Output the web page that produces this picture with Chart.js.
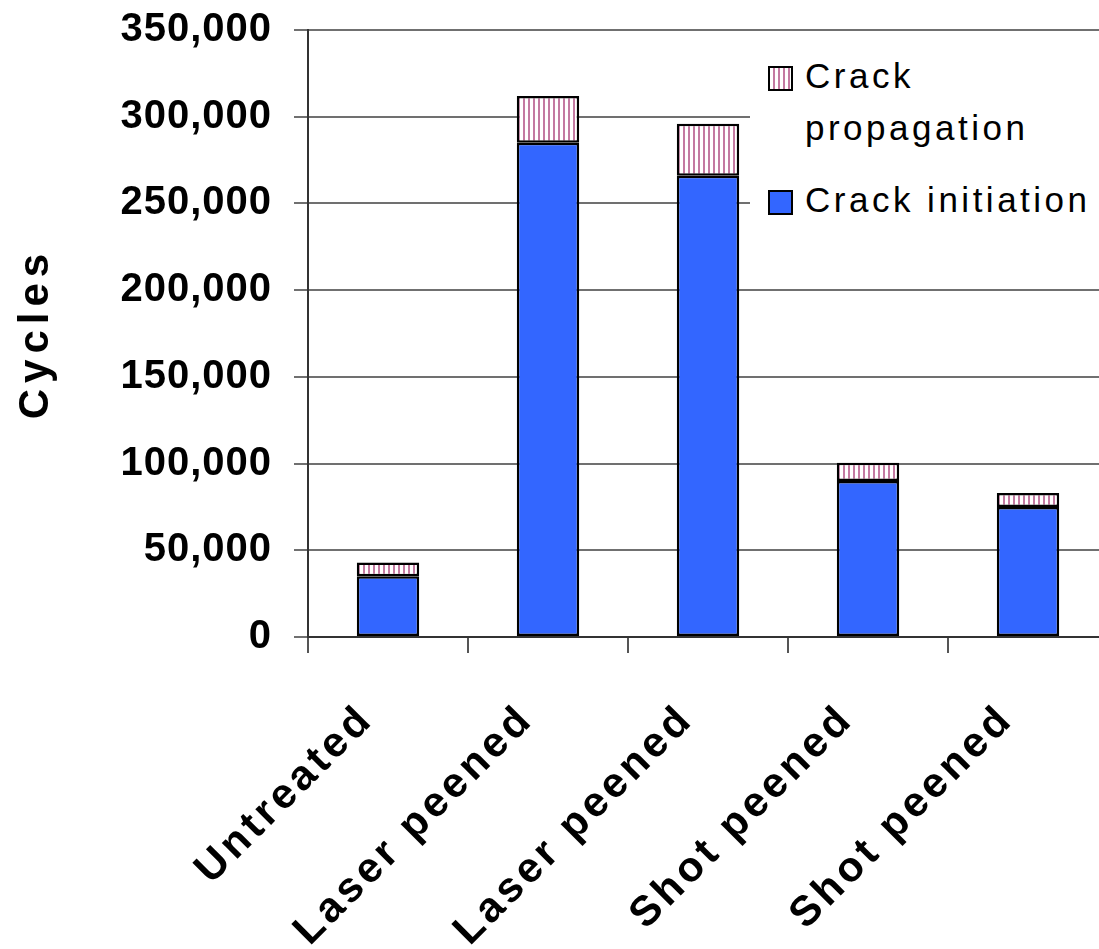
<!DOCTYPE html>
<html>
<head>
<meta charset="utf-8">
<script src="https://cdn.jsdelivr.net/npm/chart.js@4"></script>
<style>
  html, body { margin: 0; padding: 0; background: #fff; overflow: hidden; }
  #wrap { position: relative; width: 1099px; height: 949px; overflow: hidden; }
  #myChart { position: absolute; left: 0; top: 0; }
  #legend { position: absolute; left: 750px; top: 50px; width: 349px; height: 180px; background: #fff;
            font-family: 'Liberation Sans', Arial, sans-serif; font-size: 35px; line-height: 52px; letter-spacing: 3.5px; color: #000; }
  .item { position: absolute; left: 55px; white-space: nowrap; }
  .swatch { position: absolute; left: -37px; width: 21px; height: 21px; border: 2px solid #000; }
</style>
</head>
<body>
<div id="wrap">
  <canvas id="myChart" width="1120" height="949"></canvas>
  <div id="legend"></div>
</div>
<script>
const categories = ['Untreated', 'Laser peened', 'Laser peened', 'Shot peened', 'Shot peened'];
const initiation = [35000, 285000, 266000, 90000, 75000];
const propagation = [8000, 27000, 30000, 10500, 8000];
const yTicks = [0, 50000, 100000, 150000, 200000, 250000, 300000, 350000];

Chart.defaults.font.family = "'Liberation Sans', Arial, sans-serif";
Chart.defaults.color = '#000';

// the original text is spread out, canvas letterSpacing gets close to it
function spaced(Base, id, labelGap, titleGap) {
  class S extends Base {
    drawLabels(area) {
      const c = this.ctx, old = c.letterSpacing;
      c.letterSpacing = labelGap;
      super.drawLabels(area);
      c.letterSpacing = old;
    }
    drawTitle(area) {
      const c = this.ctx, old = c.letterSpacing;
      c.letterSpacing = titleGap;
      super.drawTitle(area);
      c.letterSpacing = old;
    }
  }
  S.id = id;
  S.defaults = Base.defaults;
  return S;
}
Chart.register(spaced(Chart.CategoryScale, 'spacedCategory', '4px', '0px'));
Chart.register(spaced(Chart.LinearScale, 'spacedLinear', '1px', '6px'));

const ctx = document.getElementById('myChart');

const pc = document.createElement('canvas');
pc.width = 5; pc.height = 5;
const p = pc.getContext('2d');
p.fillStyle = '#fff'; p.fillRect(0, 0, 5, 5);
p.fillStyle = '#c47aa2'; p.fillRect(3, 0, 2, 5);
const stripes = ctx.getContext('2d').createPattern(pc, 'repeat');

const chart = new Chart(ctx, {
  type: 'bar',
  data: {
    labels: categories,
    datasets: [{
      label: 'Crack initiation',
      data: initiation,
      backgroundColor: '#3366ff',
      borderColor: '#000',
      borderWidth: 2.5,
      borderSkipped: false,
      barPercentage: 0.39,
      categoryPercentage: 1
    }, {
      label: 'Crack propagation',
      data: propagation,
      backgroundColor: stripes,
      borderColor: '#000',
      borderWidth: 2.5,
      borderSkipped: false,
      barPercentage: 0.39,
      categoryPercentage: 1
    }]
  },
  options: {
    responsive: false,
    animation: false,
    layout: { padding: { left: 0, top: 30, right: 12, bottom: 0 } },
    plugins: { legend: { display: false }, tooltip: { enabled: false } },
    scales: {
      x: {
        type: 'spacedCategory',
        stacked: true,
        grid: { drawOnChartArea: false, drawTicks: true, tickLength: 16, color: '#555', lineWidth: 2 },
        border: { color: '#333', width: 2 },
        ticks: { minRotation: 45, maxRotation: 45, padding: 42, labelOffset: -21, font: { size: 42, weight: 'bold' } },
        afterFit: s => { s.height = 312; }
      },
      y: {
        type: 'spacedLinear',
        stacked: true,
        min: 0,
        max: 350000,
        afterBuildTicks: s => { s.ticks = yTicks.map(v => ({ value: v })); },
        grid: { color: '#707070', lineWidth: 2, tickLength: 14 },
        border: { color: '#333', width: 2 },
        ticks: {
          padding: 22,
          font: { size: 40, weight: 'bold' },
          callback: v => v.toLocaleString('en-US')
        },
        title: { display: true, text: 'Cycles', padding: { top: 11, bottom: 0 }, font: { size: 42, weight: 'bold' } },
        afterFit: s => { s.width = 308; s.paddingTop = 0; s.paddingBottom = 0; }
      }
    }
  }
});

// legend, propagation on top like the original
const legend = document.getElementById('legend');
const tops = [0, 124];
[chart.data.datasets[1], chart.data.datasets[0]].forEach((ds, i) => {
  const item = document.createElement('div');
  item.className = 'item';
  item.style.top = tops[i] + 'px';
  item.innerHTML = i === 0 ? 'Crack<br>propagation' : ds.label;
  const sw = document.createElement('div');
  sw.className = 'swatch';
  sw.style.top = '16px';
  sw.style.background = i === 0
    ? 'repeating-linear-gradient(90deg, #fff 0 3px, #c47aa2 3px 5px)'
    : ds.backgroundColor;
  item.appendChild(sw);
  legend.appendChild(item);
});
</script>
</body>
</html>
